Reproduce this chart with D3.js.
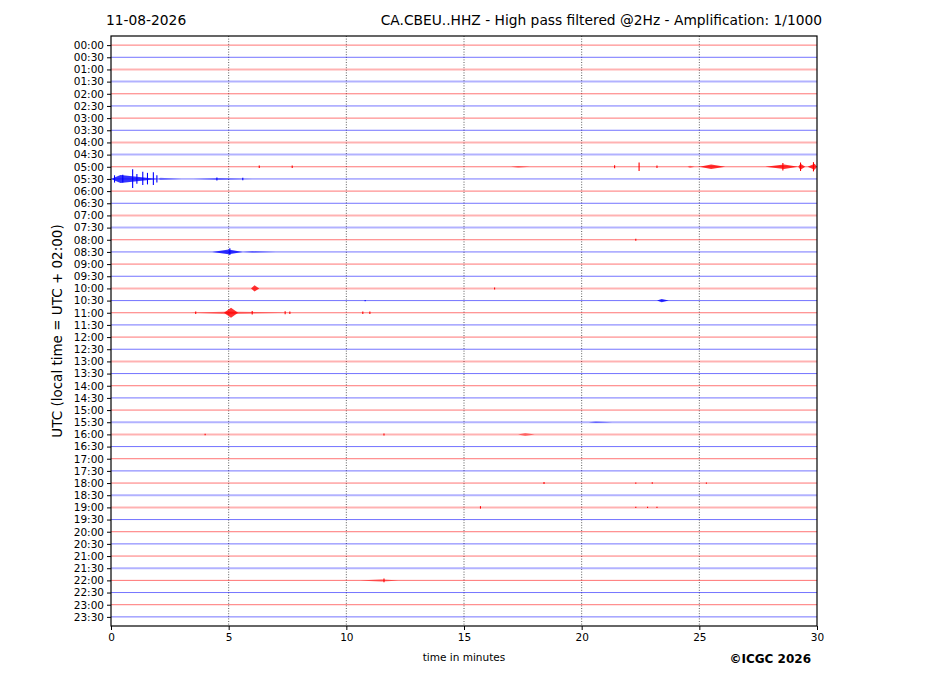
<!DOCTYPE html>
<html>
<head>
<meta charset="utf-8">
<script src="https://cdn.jsdelivr.net/npm/d3@7"></script>
<style>
  body { margin: 0; background: #fff; }
  svg { font-family: "DejaVu Sans", sans-serif; }
</style>
</head>
<body>
<div id="chart"></div>
<script>
(function () {
	"use strict";

	// one trace line per half hour, colours alternate red / blue
	var rowLabels = [
		'00:00', '00:30', '01:00', '01:30', '02:00', '02:30', '03:00', '03:30',
		'04:00', '04:30', '05:00', '05:30', '06:00', '06:30', '07:00', '07:30',
		'08:00', '08:30', '09:00', '09:30', '10:00', '10:30', '11:00', '11:30',
		'12:00', '12:30', '13:00', '13:30', '14:00', '14:30', '15:00', '15:30',
		'16:00', '16:30', '17:00', '17:30', '18:00', '18:30', '19:00', '19:30',
		'20:00', '20:30', '21:00', '21:30', '22:00', '22:30', '23:00', '23:30'
	];
	var traceColors = ['red', 'blue'];

	// background noise level of each trace (0 quiet, 1 noisy)
	var rowNoise = [
		0, 0, 1, 1, 0, 0, 0, 0, 1, 1, 0, 0, 0, 0, 1, 1,
		0, 0, 0, 0, 1, 0, 0, 0, 0, 0, 1, 0, 0, 0, 0, 1,
		1, 0, 0, 0, 0, 1, 1, 0, 0, 0, 0, 1, 0, 0, 0, 0
	];

	var minuteTicks = [0, 5, 10, 15, 20, 25, 30];

	// bursts: [row, start min, peak min, end min, amplitude in rows]
	var bursts = [
		[10, 17.0, 17.3, 17.8, 0.04],
		[10, 24.5, 24.6, 24.8, 0.06],
		[10, 25.0, 25.5, 26.1, 0.15],
		[10, 27.8, 28.6, 29.2, 0.16],
		[10, 29.2, 29.3, 29.5, 0.22],
		[10, 29.6, 29.9, 30.0, 0.22],
		[11, 0.0, 0.4, 2.0, 0.3],
		[11, 2.0, 2.1, 3.0, 0.06],
		[11, 3.5, 4.6, 6.0, 0.05],
		[17, 4.3, 5.0, 5.6, 0.16],
		[17, 5.6, 6.0, 7.0, 0.04],
		[20, 5.95, 6.1, 6.3, 0.22],
		[21, 23.2, 23.4, 23.7, 0.1],
		[22, 3.4, 5.0, 7.6, 0.08],
		[22, 4.8, 5.1, 5.4, 0.38],
		[31, 20.3, 20.6, 21.3, 0.03],
		[32, 17.3, 17.6, 18.0, 0.09],
		[44, 10.6, 11.5, 12.2, 0.07]
	];

	// single wiggles: [row, minute, up, down] in rows
	var spikes = [
		[10, 6.3, 0.1, 0.1], [10, 7.7, 0.1, 0.1], [10, 21.4, 0.12, 0.12],
		[10, 22.44, 0.35, 0.35], [10, 23.2, 0.1, 0.1], [10, 28.55, 0.3, 0.3],
		[10, 29.3, 0.35, 0.35], [10, 29.85, 0.38, 0.38],
		[11, 0.15, 0.3, 0.3], [11, 0.5, 0.35, 0.3], [11, 0.92, 0.8, 0.75],
		[11, 1.1, 0.4, 0.4], [11, 1.35, 0.6, 0.5], [11, 1.55, 0.5, 0.45],
		[11, 1.8, 0.55, 0.5], [11, 1.95, 0.3, 0.3], [11, 4.5, 0.12, 0.12],
		[11, 5.6, 0.1, 0.1],
		[16, 22.3, 0.08, 0.08],
		[17, 5.05, 0.3, 0.25],
		[20, 16.3, 0.08, 0.08],
		[21, 10.8, 0.05, 0.05],
		[22, 3.6, 0.1, 0.1], [22, 6.0, 0.15, 0.15], [22, 7.4, 0.12, 0.12],
		[22, 7.6, 0.1, 0.1], [22, 10.7, 0.1, 0.1], [22, 11.0, 0.1, 0.1],
		[32, 4.0, 0.06, 0.06], [32, 11.6, 0.08, 0.08],
		[36, 18.4, 0.08, 0.08], [36, 22.3, 0.05, 0.05], [36, 23.0, 0.06, 0.06],
		[36, 25.3, 0.05, 0.05],
		[38, 15.7, 0.1, 0.1], [38, 22.3, 0.06, 0.06], [38, 22.8, 0.06, 0.06],
		[38, 23.2, 0.06, 0.06],
		[44, 11.6, 0.15, 0.15]
	];

	var width = 927, height = 696;
	var margin = { top: 36, right: 110, bottom: 70, left: 111 };

	var svg = d3.select('#chart')
		.append('svg')
		.attr('width', width)
		.attr('height', height);

	var x = d3.scaleLinear()
		.domain([0, 30])
		.range([margin.left, width - margin.right]);

	var y = d3.scaleLinear()
		.domain([-0.75, rowLabels.length - 0.25])
		.range([margin.top, height - margin.bottom]);

	function colorOf(row) {
		return traceColors[row % 2];
	}

	// minute grid
	svg.append('g')
		.selectAll('line')
		.data(minuteTicks.slice(1, -1))
		.enter()
		.append('line')
		.attr('x1', function (d) { return x(d); })
		.attr('x2', function (d) { return x(d); })
		.attr('y1', y.range()[0])
		.attr('y2', y.range()[1])
		.attr('stroke', '#333')
		.attr('stroke-width', 0.8)
		.attr('stroke-dasharray', '1,1.6');

	// trace baselines
	svg.append('g')
		.selectAll('line')
		.data(rowLabels)
		.enter()
		.append('line')
		.attr('x1', x(0))
		.attr('x2', x(30))
		.attr('y1', function (d, i) { return y(i); })
		.attr('y2', function (d, i) { return y(i); })
		.attr('stroke', function (d, i) { return colorOf(i); })
		.attr('stroke-width', function (d, i) { return rowNoise[i] ? 2 : 1; })
		.attr('stroke-opacity', function (d, i) { return rowNoise[i] ? 0.3 : 0.55; });

	// bursts as envelopes, weak ones fainter
	var rowUnit = y(1) - y(0);
	svg.append('g')
		.selectAll('path')
		.data(bursts)
		.enter()
		.append('path')
		.attr('d', function (b) {
			var base = y(b[0]), a = b[4] * rowUnit + 0.4;
			return 'M' + x(b[1]) + ',' + base +
				'L' + x(b[2]) + ',' + (base - a) +
				'L' + x(b[3]) + ',' + base +
				'L' + x(b[2]) + ',' + (base + a) + 'Z';
		})
		.attr('fill', function (b) { return colorOf(b[0]); })
		.attr('fill-opacity', function (b) { return b[4] < 0.1 ? 0.45 : 0.8; });

	svg.append('g')
		.selectAll('line')
		.data(spikes)
		.enter()
		.append('line')
		.attr('x1', function (s) { return x(s[1]); })
		.attr('x2', function (s) { return x(s[1]); })
		.attr('y1', function (s) { return y(s[0] - s[2]); })
		.attr('y2', function (s) { return y(s[0] + s[3]); })
		.attr('stroke', function (s) { return colorOf(s[0]); })
		.attr('stroke-width', 1.1);

	// frame
	svg.append('rect')
		.attr('x', x(0))
		.attr('y', y.range()[0])
		.attr('width', x(30) - x(0))
		.attr('height', y.range()[1] - y.range()[0])
		.attr('fill', 'none')
		.attr('stroke', '#000')
		.attr('stroke-width', 1.2);

	var xAxis = svg.append('g')
		.attr('transform', 'translate(0,' + y.range()[1] + ')')
		.call(d3.axisBottom(x).tickValues(minuteTicks).tickSize(4).tickPadding(4));

	var yAxis = svg.append('g')
		.attr('transform', 'translate(' + x(0) + ',0)')
		.call(d3.axisLeft(y)
			.tickValues(d3.range(rowLabels.length))
			.tickFormat(function (i) { return rowLabels[i]; })
			.tickSize(4).tickPadding(3));

	[xAxis, yAxis].forEach(function (axis) {
		axis.select('.domain').remove();
		axis.selectAll('text')
			.attr('fill', '#000')
			.style('font-size', '10.5px')
			.style('font-family', '"DejaVu Sans", sans-serif');
		axis.selectAll('line').attr('stroke', '#000');
	});

	svg.append('text')
		.attr('x', 106)
		.attr('y', 25)
		.style('font-size', '13.8px')
		.text('11-08-2026');

	svg.append('text')
		.attr('x', 822)
		.attr('y', 25)
		.attr('text-anchor', 'end')
		.style('font-size', '13.8px')
		.text('CA.CBEU..HHZ - High pass filtered @2Hz - Amplification: 1/1000');

	svg.append('text')
		.attr('x', (x(0) + x(30)) / 2)
		.attr('y', 661)
		.attr('text-anchor', 'middle')
		.style('font-size', '10.5px')
		.text('time in minutes');

	svg.append('text')
		.attr('transform', 'translate(62,' + (y.range()[0] + y.range()[1]) / 2 + ') rotate(-90)')
		.attr('text-anchor', 'middle')
		.style('font-size', '13.5px')
		.text('UTC (local time = UTC + 02:00)');

	svg.append('text')
		.attr('x', 811)
		.attr('y', 663)
		.attr('text-anchor', 'end')
		.style('font-size', '12px')
		.style('font-weight', 'bold')
		.text('©ICGC 2026');
}());
</script>
</body>
</html>
